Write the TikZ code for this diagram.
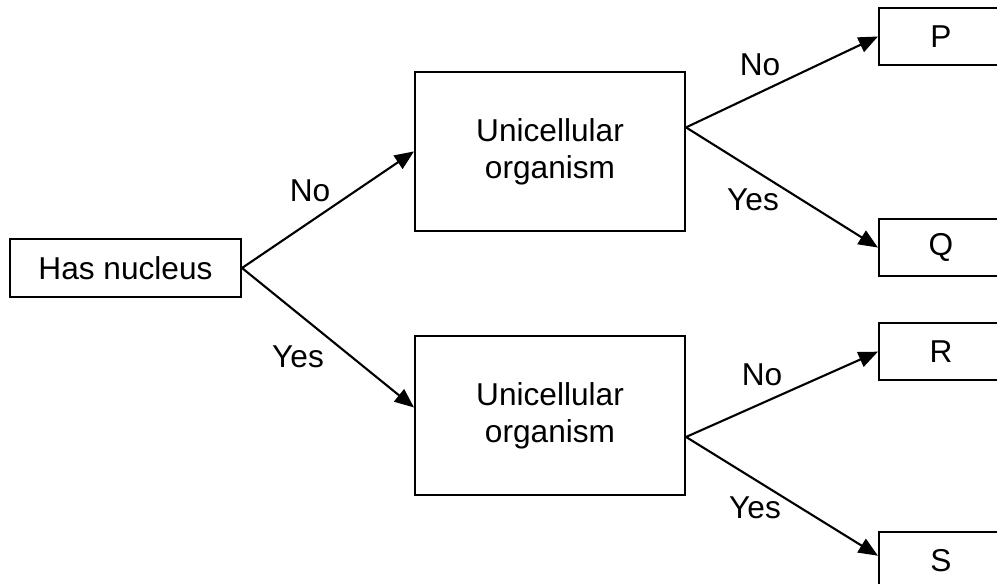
\documentclass[tikz,border=0pt]{standalone}
\usepackage{fontspec}
\setmainfont{Liberation Sans}
\usetikzlibrary{positioning,arrows.meta}

\begin{document}
\begin{tikzpicture}[x=0.02cm,y=-0.02cm,every node/.style={draw,line width=1.2pt,inner sep=0pt,align=center,font=\fontsize{18}{21}\selectfont}] %unidades en pixeles (y para abajo), cajas con borde y letra tipo Arial
    %marco de la figura, lo de afuera se corta
    \useasboundingbox (0,0) rectangle (997,584);

    %Las cajas del arbol
    \node[minimum width=4.62cm,minimum height=1.16cm] (hn) at (125.5,268) {Has nucleus}; %la raiz
    \node[minimum width=5.4cm,minimum height=3.18cm,above right= 0.12cm and 3.44cm of hn] (u1) {Unicellular\\organism};
    \node[minimum width=5.4cm,minimum height=3.18cm,below= 2.06cm of u1] (u2) {Unicellular\\organism};

    %Las hojas (se salen por la derecha)
    \node[minimum width=2.48cm,minimum height=1.14cm] (P) at (941,36.5) {P};
    \node[minimum width=2.48cm,minimum height=1.14cm,below= 3.04cm of P] (Q) {Q};
    \node[minimum width=2.48cm,minimum height=1.14cm,below= 0.9cm of Q] (R) {R};
    \node[minimum width=2.48cm,minimum height=1.14cm,below= 3cm of R] (S) {S};

    %Flechas
    \draw[line width=1.2pt,-{Triangle[length=11pt,width=9pt]}] (hn.east) to (u1.west);
    \draw[line width=1.2pt,-{Triangle[length=11pt,width=9pt]}] (hn.east) to ([yshift=0.16cm]u2.west);
    \draw[line width=1.2pt,-{Triangle[length=11pt,width=9pt]}] ([yshift=0.48cm]u1.east) to (P.west);
    \draw[line width=1.2pt,-{Triangle[length=11pt,width=9pt]}] ([yshift=0.48cm]u1.east) to (Q.west);
    \draw[line width=1.2pt,-{Triangle[length=11pt,width=9pt]}] ([yshift=-0.43cm]u2.east) to (R.west);
    \draw[line width=1.2pt,-{Triangle[length=11pt,width=9pt]}] ([yshift=-0.43cm]u2.east) to ([yshift=0.1cm]S.west);

    %Los si/no de cada flecha
    \node[draw=none] (no1) at (310,191) {No};
    \node[draw=none] (si1) at (298,357) {Yes};
    \node[draw=none] (no2) at (760,65) {No};
    \node[draw=none] (si2) at (753,200) {Yes};
    \node[draw=none] (no3) at (762,375) {No};
    \node[draw=none] (si3) at (755,508) {Yes};
\end{tikzpicture}
\end{document}
